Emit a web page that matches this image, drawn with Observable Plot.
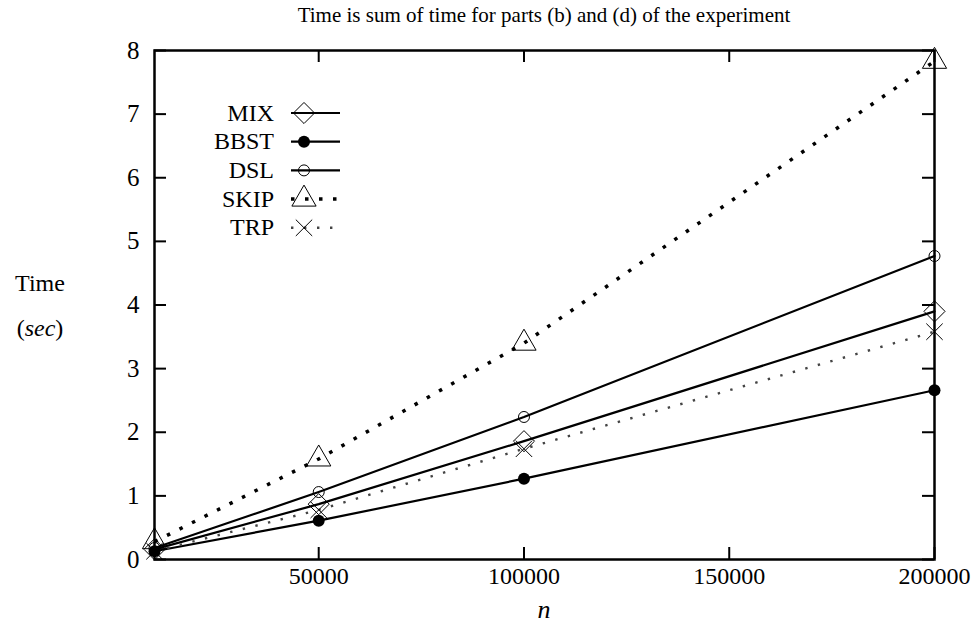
<!DOCTYPE html>
<html>
<head>
<meta charset="utf-8">
<script src="https://cdn.jsdelivr.net/npm/d3@7"></script>
<script src="https://cdn.jsdelivr.net/npm/@observablehq/plot@0.6"></script>
<style>
  html, body { margin: 0; padding: 0; background: #fff; }
  #chart svg { font-family: "Liberation Serif", serif; }
</style>
</head>
<body>
<div id="chart"></div>
<script>
// ---- data ----
const nValues = [10000, 50000, 100000, 200000];
const seriesNames = ["MIX", "BBST", "DSL", "SKIP", "TRP"];
const mixTime  = [0.16, 0.87, 1.86, 3.90];
const bbstTime = [0.13, 0.61, 1.27, 2.66];
const dslTime  = [0.18, 1.06, 2.24, 4.77];
const skipTime = [0.28, 1.58, 3.40, 7.83];
const trpTime  = [0.13, 0.78, 1.74, 3.58];
const xTickValues = [50000, 100000, 150000, 200000];
const yTickValues = [0, 1, 2, 3, 4, 5, 6, 7, 8];
const titleText = "Time is sum of time for parts (b) and (d) of the experiment";

const allSeries = [mixTime, bbstTime, dslTime, skipTime, trpTime];
const table = seriesNames.flatMap((s, i) => nValues.map((n, j) => ({series: s, n, time: allSeries[i][j]})));
const rows = s => table.filter(d => d.series === s);

// ---- styles ----
const styles = {
  MIX:  {line: {stroke: "#000", strokeWidth: 2.2}, sym: {symbol: "diamond2", r: 9.5, stroke: "#000", fill: "none", strokeWidth: 1}},
  BBST: {line: {stroke: "#000", strokeWidth: 2.2}, sym: {symbol: "circle", r: 6, fill: "#000", stroke: "none"}},
  DSL:  {line: {stroke: "#000", strokeWidth: 2.2}, sym: {symbol: "circle", r: 5.5, stroke: "#000", fill: "none", strokeWidth: 1}},
  SKIP: {line: {stroke: "#000", strokeWidth: 3.5, strokeDasharray: "3.5,10.5", strokeLinecap: "butt"}, sym: {symbol: "triangle", r: 9, stroke: "#000", fill: "none", strokeWidth: 1}},
  TRP:  {line: {stroke: "#444", strokeWidth: 2.4, strokeDasharray: "2.4,10.6", strokeLinecap: "butt"}, sym: {symbol: "times", r: 7.5, stroke: "#000", fill: "none", strokeWidth: 1}}
};

const W = 976, H = 630;
const mL = 154, mR = 42, mT = 50, mB = 71;
const frameW = W - mL - mR, frameH = H - mT - mB;
const tickLen = 12;

const marks = [];
for (const s of seriesNames) {
  marks.push(Plot.line(rows(s), {x: "n", y: "time", ...styles[s].line}));
}
for (const s of seriesNames) {
  marks.push(Plot.dot(rows(s), {x: "n", y: "time", ...styles[s].sym}));
}
// inward ticks on all four sides
marks.push(Plot.tickX(xTickValues, {x: d => d, insetTop: frameH - tickLen, stroke: "#000", strokeWidth: 2}));
marks.push(Plot.tickX(xTickValues, {x: d => d, insetBottom: frameH - tickLen, stroke: "#000", strokeWidth: 2}));
marks.push(Plot.tickY(yTickValues, {y: d => d, insetRight: frameW - tickLen, stroke: "#000", strokeWidth: 2}));
marks.push(Plot.tickY(yTickValues, {y: d => d, insetLeft: frameW - tickLen, stroke: "#000", strokeWidth: 2}));
marks.push(Plot.frame({stroke: "#000", strokeWidth: 2.5}));
// tick labels
marks.push(Plot.text(xTickValues, {x: d => d, frameAnchor: "bottom", dy: 24, text: d => String(d), fontSize: 24, fill: "#000"}));
marks.push(Plot.text(yTickValues, {y: d => d, frameAnchor: "left", dx: -15, textAnchor: "end", text: d => String(d), fontSize: 25, fill: "#000"}));

const chart = Plot.plot({
  width: W, height: H,
  marginLeft: mL, marginRight: mR, marginTop: mT, marginBottom: mB,
  x: {domain: [10000, 200000], axis: null},
  y: {domain: [0, 8], axis: null},
  marks
});
document.getElementById("chart").appendChild(chart);

// ---- annotations: title, axis labels, legend ----
const svg = d3.select(chart);
const font = "Liberation Serif, serif";
svg.append("text").attr("x", mL + frameW / 2).attr("y", 22).attr("text-anchor", "middle")
  .attr("font-family", font).attr("font-size", 21).text(titleText);
svg.append("text").attr("x", mL + frameW / 2).attr("y", 618).attr("text-anchor", "middle")
  .attr("font-family", font).attr("font-size", 26).attr("font-style", "italic").text("n");
svg.append("text").attr("x", 40).attr("y", 291).attr("text-anchor", "middle")
  .attr("font-family", font).attr("font-size", 24).text("Time");
const sec = svg.append("text").attr("x", 40).attr("y", 336).attr("text-anchor", "middle")
  .attr("font-family", font).attr("font-size", 24);
sec.append("tspan").text("(");
sec.append("tspan").attr("font-style", "italic").text("sec");
sec.append("tspan").text(")");

const lg = svg.append("g");
const symMap = {diamond2: d3.symbolDiamond2, circle: d3.symbolCircle, triangle: d3.symbolTriangle, times: d3.symbolTimes};
seriesNames.forEach((s, i) => {
  const y = 113 + i * 28.7;
  lg.append("text").attr("x", 274).attr("y", y).attr("dy", "0.32em").attr("text-anchor", "end")
    .attr("font-family", font).attr("font-size", 24).text(s);
  const st = styles[s].line;
  lg.append("line").attr("x1", 291).attr("x2", 340).attr("y1", y).attr("y2", y)
    .attr("stroke", st.stroke).attr("stroke-width", st.strokeWidth)
    .attr("stroke-dasharray", st.strokeDasharray || null).attr("stroke-linecap", "butt");
  const sy = styles[s].sym;
  lg.append("path").attr("transform", `translate(304,${y})`)
    .attr("d", d3.symbol(symMap[sy.symbol], Math.PI * sy.r * sy.r)())
    .attr("fill", sy.fill === "none" ? "#fff" : sy.fill).attr("fill-opacity", sy.fill === "none" ? 0 : 1)
    .attr("stroke", sy.stroke).attr("stroke-width", sy.strokeWidth || 0);
});
</script>
</body>
</html>
